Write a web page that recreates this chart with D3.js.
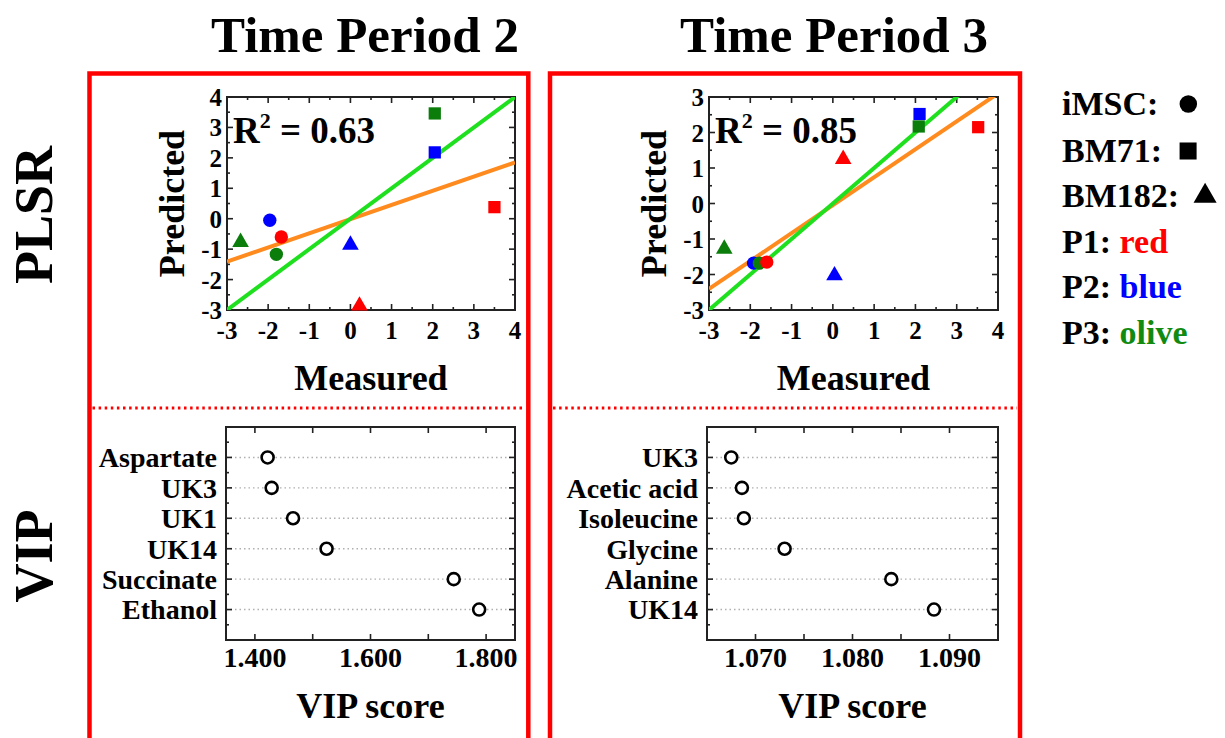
<!DOCTYPE html>
<html><head><meta charset="utf-8">
<script src="https://cdn.jsdelivr.net/npm/d3@7"></script>
<style>
body{margin:0;background:#fff}
svg{display:block}
text{font-family:"Liberation Serif","Times New Roman",serif;font-weight:bold;fill:#000}
</style>
</head><body>
<svg id="c" width="1225" height="738"></svg>
<script>
// ---------------- DATA ----------------
const periodTitles = ["Time Period 2", "Time Period 3"];
const rowTitles = ["PLSR", "VIP"];
const cellLines = ["iMSC", "BM71", "BM182"];
const patients = ["P1", "P2", "P3"];
const patientColorNames = ["red", "blue", "olive"];
// order of points: for each cell line -> P1, P2, P3
const pointCell = ["iMSC","iMSC","iMSC","BM71","BM71","BM71","BM182","BM182","BM182"];
const pointPatient = ["P1","P2","P3","P1","P2","P3","P1","P2","P3"];
const tp2Measured  = [-1.68, -1.96, -1.80, 3.50, 2.05, 2.05, 0.22, 0.00, -2.67];
const tp2Predicted = [-0.60, -0.05, -1.17, 0.38, 2.18, 3.46, -2.86, -0.86, -0.77];
const tp3Measured  = [-1.60, -1.92, -1.78, 3.52, 2.10, 2.08, 0.25, 0.04, -2.63];
const tp3Predicted = [-1.65, -1.68, -1.68, 2.15, 2.52, 2.17, 1.25, -2.03, -1.28];
const r2Values = [0.63, 0.85];
const fitSlopes = [0.466, 0.787];
const fitIntercepts = [-0.013, -0.046];
const measuredTicks = [-3, -2, -1, 0, 1, 2, 3, 4];
const tp2PredTicks = [-3, -2, -1, 0, 1, 2, 3, 4];
const tp3PredTicks = [-3, -2, -1, 0, 1, 2, 3];

const vip2Names  = ["Aspartate", "UK3", "UK1", "UK14", "Succinate", "Ethanol"];
const vip2Scores = [1.422, 1.429, 1.466, 1.524, 1.744, 1.788];
const vip3Names  = ["UK3", "Acetic acid", "Isoleucine", "Glycine", "Alanine", "UK14"];
const vip3Scores = [1.0675, 1.0686, 1.0688, 1.0730, 1.0840, 1.0884];
const vip2Domain = [1.35, 1.85];
const vip3Domain = [1.065, 1.095];
const vip2TickLabels = [1.4, 1.6, 1.8];
const vip3TickLabels = [1.07, 1.08, 1.09];
const vip2TickMarks = [1.4, 1.5, 1.6, 1.7, 1.8];
const vip3TickMarks = [1.070, 1.075, 1.080, 1.085, 1.090];

// ---------------- STYLE / LAYOUT ----------------
const colorOf = {P1: "#ff0000", P2: "#0000ff", P3: "#0b7d0b"};
const textColorOf = {red: "#ff0000", blue: "#0000ff", olive: "#118a11"};
const shapeOf = {iMSC: d3.symbolCircle, BM71: d3.symbolSquare, BM182: d3.symbolTriangle};
const sizeOf = {iMSC: 140, BM71: 150, BM182: 120};
const drawOrder = {P2: 0, P3: 1, P1: 2};

const svg = d3.select("#c");
const boxes = [{l: 89.5, r: 528.3}, {l: 550, r: 1020}];
const boxTop = 73.5;
const scatterX = [[227, 515], [709, 998]];
const scatterY = [310, 97];
const vipX = [[226, 515], [707, 998]];
const vipY = [427, 640];

// red panel boxes + dotted separators
boxes.forEach(b => {
  svg.append("path")
    .attr("d", `M${b.l},745V${boxTop}H${b.r}V745`)
    .attr("fill", "none").attr("stroke", "#ff0000").attr("stroke-width", 4.5);
  svg.append("line")
    .attr("x1", b.l + 3).attr("x2", b.r - 3).attr("y1", 408).attr("y2", 408)
    .attr("stroke", "#ff0000").attr("stroke-width", 3).attr("stroke-dasharray", "2.5,3.6");
});

// titles
const titleX = [365, 834];
periodTitles.forEach((t, i) => {
  svg.append("text").attr("x", titleX[i]).attr("y", 52)
    .attr("text-anchor", "middle").attr("font-size", 51).text(t);
});
// row titles
[[215], [556]].forEach((p, i) => {
  svg.append("text").attr("transform", `translate(52,${p[0]}) rotate(-90)`)
    .attr("text-anchor", "middle").attr("font-size", 54).text(rowTitles[i]);
});

function frame(g, x0, x1, y0, y1, xMaj, xMin, yMaj, yMin, sx, sy) {
  g.append("rect").attr("x", x0).attr("y", Math.min(y0, y1))
    .attr("width", x1 - x0).attr("height", Math.abs(y1 - y0))
    .attr("fill", "none").attr("stroke", "#222").attr("stroke-width", 2);
  const top = Math.min(y0, y1), bot = Math.max(y0, y1);
  const tk = (v, len, horiz) => {
    if (horiz) {
      const x = sx(v);
      g.append("line").attr("x1", x).attr("x2", x).attr("y1", bot).attr("y2", bot - len)
        .attr("stroke", "#222").attr("stroke-width", 1.6);
      g.append("line").attr("x1", x).attr("x2", x).attr("y1", top).attr("y2", top + len)
        .attr("stroke", "#222").attr("stroke-width", 1.6);
    } else {
      const y = sy(v);
      g.append("line").attr("x1", x0).attr("x2", x0 + len).attr("y1", y).attr("y2", y)
        .attr("stroke", "#222").attr("stroke-width", 1.6);
      g.append("line").attr("x1", x1).attr("x2", x1 - len).attr("y1", y).attr("y2", y)
        .attr("stroke", "#222").attr("stroke-width", 1.6);
    }
  };
  xMaj.forEach(v => tk(v, 6, true));
  xMin.forEach(v => tk(v, 3, true));
  yMaj.forEach(v => tk(v, 6, false));
  yMin.forEach(v => tk(v, 3, false));
}

// ---------------- SCATTER PANELS ----------------
const scatterData = [
  {meas: tp2Measured, pred: tp2Predicted, yTicks: tp2PredTicks},
  {meas: tp3Measured, pred: tp3Predicted, yTicks: tp3PredTicks}
];
scatterData.forEach((d, i) => {
  const g = svg.append("g");
  const [x0, x1] = scatterX[i];
  const yDom = d3.extent(d.yTicks);
  const sx = d3.scaleLinear().domain(d3.extent(measuredTicks)).range([x0, x1]);
  const sy = d3.scaleLinear().domain(yDom).range(scatterY);
  const clipId = "clip" + i;
  g.append("clipPath").attr("id", clipId).append("rect")
    .attr("x", x0).attr("y", scatterY[1]).attr("width", x1 - x0).attr("height", scatterY[0] - scatterY[1]);

  const half = arr => arr.slice(0, -1).map(v => v + 0.5);
  frame(g, x0, x1, scatterY[0], scatterY[1], measuredTicks, half(measuredTicks),
        d.yTicks, half(d.yTicks), sx, sy);

  // tick labels
  g.selectAll(".xt").data(measuredTicks).join("text")
    .attr("x", v => sx(v)).attr("y", 339).attr("text-anchor", "middle")
    .attr("font-size", 25).text(v => v);
  g.selectAll(".yt").data(d.yTicks).join("text")
    .attr("x", x0 - 5).attr("y", v => sy(v)).attr("dy", "0.36em").attr("text-anchor", "end")
    .attr("font-size", 25).text(v => v);

  // axis titles
  g.append("text").attr("x", (x0 + x1) / 2).attr("y", 390).attr("text-anchor", "middle")
    .attr("font-size", 36).text("Measured");
  g.append("text").attr("transform", `translate(${x0 - 43},${(scatterY[0] + scatterY[1]) / 2}) rotate(-90)`)
    .attr("text-anchor", "middle").attr("font-size", 36).text("Predicted");

  // lines
  const xd = sx.domain();
  const lg = g.append("g").attr("clip-path", `url(#${clipId})`);
  lg.append("line")
    .attr("x1", sx(xd[0])).attr("y1", sy(xd[0] * fitSlopes[i] + fitIntercepts[i]))
    .attr("x2", sx(xd[1])).attr("y2", sy(xd[1] * fitSlopes[i] + fitIntercepts[i]))
    .attr("stroke", "#ff8a1e").attr("stroke-width", 4);
  lg.append("line")
    .attr("x1", sx(xd[0])).attr("y1", sy(xd[0]))
    .attr("x2", sx(xd[1])).attr("y2", sy(xd[1]))
    .attr("stroke", "#1ee01e").attr("stroke-width", 4);

  // points
  const pts = d.meas.map((m, k) => ({m, p: d.pred[k], cell: pointCell[k], pat: pointPatient[k]}))
    .sort((a, b) => drawOrder[a.pat] - drawOrder[b.pat]);
  g.selectAll(".pt").data(pts).join("path")
    .attr("transform", p => `translate(${sx(p.m)},${sy(p.p)})`)
    .attr("d", p => d3.symbol(shapeOf[p.cell], sizeOf[p.cell])())
    .attr("fill", p => colorOf[p.pat]);

  // R^2
  const t = g.append("text").attr("x", x0 + 6).attr("y", 143).attr("font-size", 37);
  t.append("tspan").text("R");
  t.append("tspan").attr("dy", -15).attr("font-size", 22).text("2");
  t.append("tspan").attr("dy", 15).text(" = " + r2Values[i].toFixed(2));
});

// ---------------- VIP PANELS ----------------
const vipData = [
  {names: vip2Names, scores: vip2Scores, dom: vip2Domain, labs: vip2TickLabels, marks: vip2TickMarks},
  {names: vip3Names, scores: vip3Scores, dom: vip3Domain, labs: vip3TickLabels, marks: vip3TickMarks}
];
vipData.forEach((d, i) => {
  const g = svg.append("g");
  const [x0, x1] = vipX[i];
  const sx = d3.scaleLinear().domain(d.dom).range([x0, x1]);
  const sy = d3.scalePoint().domain(d.names).range(vipY).padding(1);
  const step = sy.step();
  const syv = v => v; // identity for frame ticks (pixel values)
  const rowYs = d.names.map(n => sy(n));
  const halfYs = [rowYs[0] - step / 2].concat(rowYs.map(y => y + step / 2));

  // gridlines
  g.selectAll(".gl").data(d.names).join("line")
    .attr("x1", x0).attr("x2", x1).attr("y1", n => sy(n)).attr("y2", n => sy(n))
    .attr("stroke", "#b0b0b0").attr("stroke-width", 1.4).attr("stroke-dasharray", "1.5,3");

  frame(g, x0, x1, vipY[1], vipY[0], d.marks, [], rowYs, halfYs, sx, syv);

  g.selectAll(".vc").data(d.scores).join("circle")
    .attr("cx", v => sx(v)).attr("cy", (v, k) => sy(d.names[k])).attr("r", 6)
    .attr("fill", "#fff").attr("stroke", "#000").attr("stroke-width", 2.6);

  g.selectAll(".yl").data(d.names).join("text")
    .attr("x", x0 - 9).attr("y", n => sy(n)).attr("dy", "0.35em").attr("text-anchor", "end")
    .attr("font-size", 28).text(n => n);
  g.selectAll(".xl").data(d.labs).join("text")
    .attr("x", v => sx(v)).attr("y", 667).attr("text-anchor", "middle")
    .attr("font-size", 28).text(v => d3.format(".3f")(v));
  g.append("text").attr("x", (x0 + x1) / 2).attr("y", 718).attr("text-anchor", "middle")
    .attr("font-size", 36).text("VIP score");
});

// ---------------- LEGEND ----------------
const legX = 1062;
const legY = [115, 162, 207, 253, 298, 344];
cellLines.forEach((c, k) => {
  const t = svg.append("text").attr("x", legX).attr("y", legY[k]).attr("font-size", 34).text(c + ":");
  const w = t.node().getComputedTextLength();
  const sz = {iMSC: 240, BM71: 290, BM182: 230}[c];
  const gap = {iMSC: 30, BM71: 26, BM182: 26}[c];
  svg.append("path")
    .attr("transform", `translate(${legX + w + gap},${legY[k] - 11})`)
    .attr("d", d3.symbol(shapeOf[c], sz)()).attr("fill", "#000");
});
patients.forEach((p, k) => {
  const t = svg.append("text").attr("x", legX).attr("y", legY[3 + k]).attr("font-size", 34);
  t.append("tspan").text(p + ": ");
  t.append("tspan").style("fill", textColorOf[patientColorNames[k]]).text(patientColorNames[k]);
});
</script>
</body></html>
